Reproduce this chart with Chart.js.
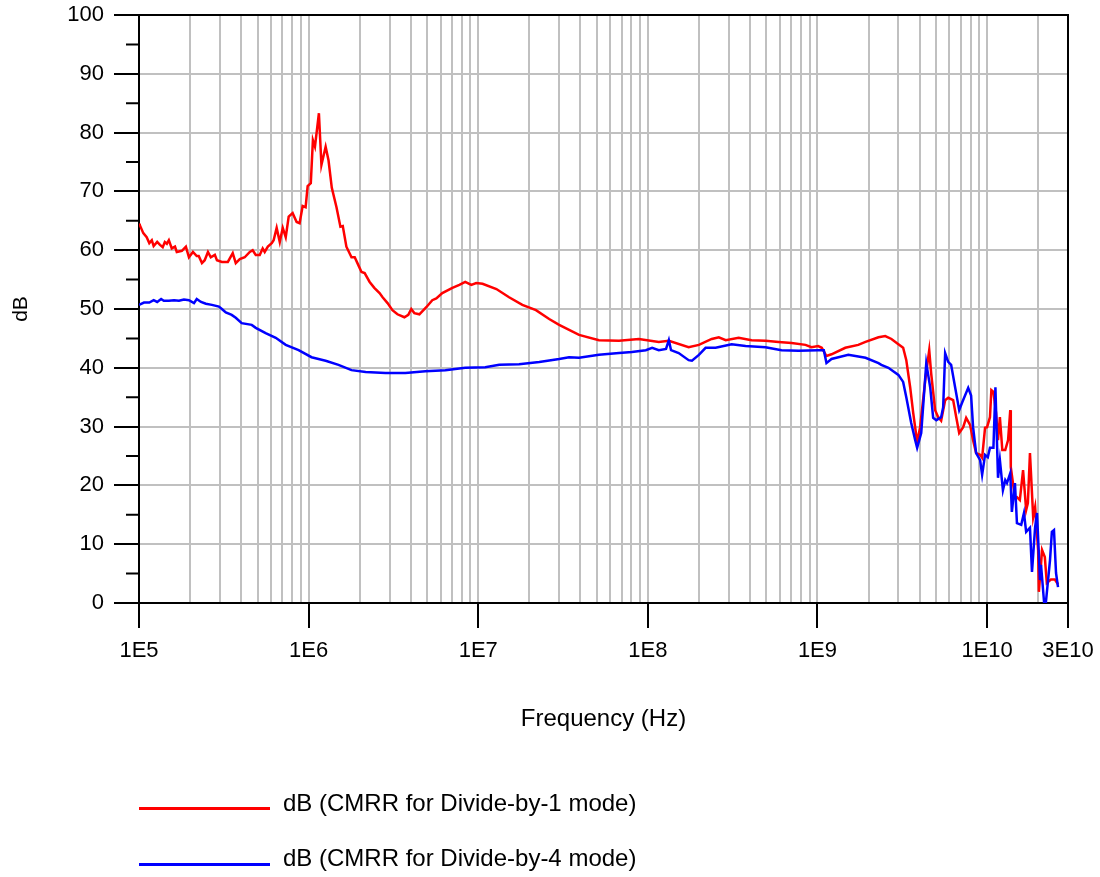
<!DOCTYPE html>
<html>
<head>
<meta charset="utf-8">
<script src="https://cdn.jsdelivr.net/npm/chart.js@4.4.1/dist/chart.umd.min.js"></script>
<style>
  body { margin: 0; background: #fff; }
  #wrap { position: relative; width: 1100px; height: 877px; }
  #chart { position: absolute; left: 0; top: 0; }
  .leg-line { position: absolute; left: 139px; width: 131px; height: 3px; }
  .leg-text { position: absolute; left: 283px; font: 24px "Liberation Sans", Arial, sans-serif; line-height: 28px; color: #000; white-space: nowrap; }
</style>
</head>
<body>
<div id="wrap">
  <canvas id="chart" width="1100" height="877"></canvas>
  <div id="legend"></div>
</div>
<script>
// CMRR for Divide-by-1 mode (red)
const redFreq = [
  1.00e5, 1.01e5, 1.06e5, 1.11e5, 1.15e5, 1.19e5, 1.22e5, 1.28e5, 1.33e5, 1.38e5,
  1.42e5, 1.46e5, 1.50e5, 1.56e5, 1.63e5, 1.67e5, 1.79e5, 1.89e5, 1.97e5, 2.08e5,
  2.19e5, 2.25e5, 2.35e5, 2.44e5, 2.55e5, 2.65e5, 2.80e5, 2.88e5, 3.08e5, 3.34e5,
  3.57e5, 3.72e5, 3.93e5, 4.20e5, 4.50e5, 4.68e5, 4.88e5, 5.15e5, 5.36e5, 5.51e5,
  5.75e5, 6.06e5, 6.22e5, 6.48e5, 6.76e5, 7.04e5, 7.33e5, 7.63e5, 8.05e5, 8.50e5,
  8.85e5, 9.22e5, 9.60e5, 9.87e5, 1.03e6, 1.06e6, 1.09e6, 1.15e6, 1.19e6, 1.26e6,
  1.31e6, 1.37e6, 1.46e6, 1.54e6, 1.59e6, 1.67e6, 1.79e6, 1.87e6, 1.94e6, 2.05e6,
  2.14e6, 2.29e6, 2.44e6, 2.62e6, 2.73e6, 2.92e6, 3.12e6, 3.34e6, 3.67e6, 3.87e6,
  4.03e6, 4.20e6, 4.50e6, 4.94e6, 5.36e6, 5.66e6, 6.14e6, 7.04e6, 7.74e6, 8.38e6,
  9.10e6, 9.73e6, 1.06e7, 1.28e7, 1.52e7, 1.82e7, 2.19e7, 2.62e7, 3.00e7, 3.93e7,
  5.15e7, 6.76e7, 8.85e7, 1.16e8, 1.33e8, 1.74e8, 2.00e8, 2.38e8, 2.62e8, 2.88e8,
  3.43e8, 4.09e8, 4.94e8, 5.90e8, 7.04e8, 8.50e8, 9.22e8, 1.01e9, 1.06e9, 1.13e9,
  1.21e9, 1.46e9, 1.74e9, 1.92e9, 2.29e9, 2.51e9, 2.73e9, 3.00e9, 3.20e9, 3.34e9,
  3.52e9, 3.67e9, 3.87e9, 4.03e9, 4.32e9, 4.56e9, 4.68e9, 4.94e9, 5.15e9, 5.36e9,
  5.66e9, 5.90e9, 6.31e9, 6.58e9, 6.85e9, 7.23e9, 7.53e9, 7.94e9, 8.27e9, 8.62e9,
  9.10e9, 9.35e9, 9.73e9, 1.00e10, 1.04e10, 1.06e10, 1.09e10, 1.13e10, 1.16e10, 1.19e10,
  1.23e10, 1.28e10, 1.33e10, 1.37e10, 1.38e10, 1.46e10, 1.50e10, 1.56e10, 1.63e10, 1.70e10,
  1.74e10, 1.79e10, 1.87e10, 1.92e10, 2.00e10, 2.02e10, 2.11e10, 2.19e10, 2.25e10, 2.38e10,
  2.51e10, 2.62e10
];
const redDb = [
  64.5, 64.3, 62.9, 62.2, 61.2, 61.7, 60.7, 61.4, 60.9, 60.5,
  61.4, 61.1, 61.7, 60.3, 60.6, 59.7, 59.9, 60.6, 58.8, 59.7,
  59.0, 59.0, 57.8, 58.3, 59.7, 58.8, 59.2, 58.3, 58.0, 58.0,
  59.5, 57.8, 58.5, 58.8, 59.7, 60.0, 59.2, 59.2, 60.3, 59.7,
  60.6, 61.2, 61.7, 63.8, 61.4, 63.8, 62.2, 65.7, 66.3, 64.8,
  64.6, 67.5, 67.3, 70.9, 71.4, 78.7, 77.6, 83.3, 74.5, 77.6,
  75.3, 70.6, 67.3, 64.0, 64.1, 60.6, 58.8, 58.8, 57.8, 56.3,
  56.1, 54.6, 53.6, 52.7, 52.0, 51.0, 49.8, 49.1, 48.6, 49.0,
  50.0, 49.3, 49.1, 50.3, 51.5, 51.8, 52.7, 53.6, 54.1, 54.6,
  54.1, 54.4, 54.3, 53.4, 52.0, 50.7, 49.8, 48.3, 47.3, 45.6,
  44.7, 44.6, 44.9, 44.4, 44.6, 43.5, 43.9, 44.9, 45.2, 44.7,
  45.1, 44.7, 44.6, 44.4, 44.2, 43.9, 43.5, 43.7, 43.4, 42.0,
  42.3, 43.4, 43.9, 44.4, 45.2, 45.4, 44.9, 44.0, 43.4, 41.3,
  36.7, 32.3, 27.4, 29.9, 37.9, 43.0, 39.1, 32.8, 31.6, 31.0,
  34.5, 34.9, 34.5, 31.6, 28.9, 29.9, 31.5, 30.3, 27.7, 25.5,
  25.2, 24.7, 29.8, 29.9, 31.6, 36.2, 35.9, 32.3, 27.7, 31.6,
  26.0, 26.0, 27.7, 32.8, 23.1, 17.9, 18.0, 17.5, 22.6, 15.8,
  17.0, 25.5, 14.6, 16.3, 9.0, 1.9, 9.0, 7.8, 3.4, 4.0,
  4.0, 3.2
];

// CMRR for Divide-by-4 mode (blue)
const blueFreq = [
  1.00e5, 1.07e5, 1.15e5, 1.22e5, 1.28e5, 1.35e5, 1.40e5, 1.50e5, 1.61e5, 1.72e5,
  1.84e5, 1.97e5, 2.11e5, 2.19e5, 2.32e5, 2.48e5, 2.69e5, 2.96e5, 3.08e5, 3.25e5,
  3.52e5, 3.72e5, 4.03e5, 4.62e5, 4.88e5, 5.58e5, 6.40e5, 7.33e5, 8.73e5, 1.04e6,
  1.26e6, 1.50e6, 1.79e6, 2.17e6, 2.84e6, 3.72e6, 4.88e6, 6.40e6, 8.38e6, 1.10e7,
  1.33e7, 1.74e7, 2.29e7, 3.00e7, 3.43e7, 3.93e7, 5.15e7, 6.76e7, 8.05e7, 9.73e7,
  1.06e8, 1.16e8, 1.28e8, 1.33e8, 1.37e8, 1.52e8, 1.74e8, 1.82e8, 2.00e8, 2.19e8,
  2.51e8, 3.12e8, 3.77e8, 4.94e8, 6.14e8, 7.74e8, 1.01e9, 1.09e9, 1.13e9, 1.21e9,
  1.52e9, 1.92e9, 2.29e9, 2.38e9, 2.62e9, 3.00e9, 3.20e9, 3.34e9, 3.57e9, 3.77e9,
  3.87e9, 4.09e9, 4.38e9, 4.62e9, 4.81e9, 5.02e9, 5.36e9, 5.51e9, 5.66e9, 5.90e9,
  6.14e9, 6.48e9, 6.85e9, 7.13e9, 7.74e9, 8.05e9, 8.27e9, 8.62e9, 9.10e9, 9.35e9,
  9.73e9, 1.01e10, 1.04e10, 1.09e10, 1.12e10, 1.16e10, 1.19e10, 1.24e10, 1.28e10, 1.31e10,
  1.37e10, 1.40e10, 1.46e10, 1.50e10, 1.59e10, 1.65e10, 1.70e10, 1.79e10, 1.84e10, 1.92e10,
  1.97e10, 2.05e10, 2.08e10, 2.17e10, 2.22e10, 2.35e10, 2.41e10, 2.48e10, 2.55e10, 2.62e10
];
const blueDb = [
  50.7, 51.1, 51.1, 51.5, 51.2, 51.7, 51.4, 51.4, 51.5, 51.4,
  51.6, 51.5, 51.0, 51.7, 51.2, 50.9, 50.7, 50.4, 50.0, 49.4,
  49.0, 48.5, 47.6, 47.3, 46.8, 45.9, 45.1, 43.9, 43.0, 41.8,
  41.2, 40.5, 39.6, 39.3, 39.1, 39.1, 39.4, 39.6, 40.0, 40.1,
  40.5, 40.6, 41.0, 41.5, 41.8, 41.7, 42.2, 42.5, 42.7, 43.0,
  43.4, 43.0, 43.2, 44.7, 43.0, 42.5, 41.3, 41.2, 42.2, 43.4,
  43.4, 44.0, 43.7, 43.5, 43.0, 42.9, 43.0, 43.0, 40.8, 41.5,
  42.2, 41.7, 40.8, 40.5, 40.0, 38.8, 37.6, 35.0, 30.6, 27.7,
  26.4, 28.9, 40.8, 36.7, 31.5, 31.1, 31.6, 33.3, 42.5, 41.0,
  40.5, 36.7, 32.8, 34.1, 36.6, 35.3, 29.9, 25.5, 24.3, 21.8,
  25.2, 24.8, 26.4, 26.4, 36.7, 21.3, 24.3, 19.2, 20.9, 20.4,
  22.1, 15.5, 20.4, 13.6, 13.3, 15.3, 12.1, 12.8, 5.3, 12.9,
  15.3, 3.9, 6.5, 0.0, 0.0, 7.3, 12.1, 12.4, 5.1, 2.7
];

// axis labels
const xTickValues = [1e5, 1e6, 1e7, 1e8, 1e9, 1e10, 3e10];
const xTickLabels = ["1E5", "1E6", "1E7", "1E8", "1E9", "1E10", "3E10"];
const yTickValues = [0, 10, 20, 30, 40, 50, 60, 70, 80, 90, 100];

// gridlines at every 1..9 x 10^k inside the range
const xGrid = [];
for (let k = 5; k <= 10; k++) {
  for (let m = 1; m <= 9; m++) {
    const v = m * Math.pow(10, k);
    if (v <= 3e10) xGrid.push(v);
  }
}

const FONT = "'Liberation Sans', Arial, sans-serif";
Chart.defaults.font.family = FONT;
Chart.defaults.color = "#000";

const GRID = "#c0c0c0";
const NONE = "rgba(0,0,0,0)";

function toPoints(xs, ys) {
  return xs.map((x, i) => ({ x: x, y: ys[i] }));
}

// box top/right edges and the short minor ticks on the y axis
const framePlugin = {
  id: "frame",
  beforeDatasetsDraw(chart) {
    const ctx = chart.ctx;
    const a = chart.chartArea;
    const y = chart.scales.y;
    ctx.save();
    ctx.strokeStyle = "#000";
    ctx.lineWidth = 2;
    ctx.beginPath();
    ctx.moveTo(a.left, a.top);
    ctx.lineTo(a.right, a.top);
    ctx.lineTo(a.right, a.bottom);
    y.ticks.forEach((t) => {
      if (!yTickValues.includes(t.value)) {
        const py = y.getPixelForValue(t.value);
        ctx.moveTo(a.left - 13, py);
        ctx.lineTo(a.left, py);
      }
    });
    ctx.stroke();
    ctx.restore();
  },
};

const chart = new Chart(document.getElementById("chart"), {
  type: "line",
  data: {
    datasets: [
      {
        label: "dB (CMRR for Divide-by-1 mode)",
        data: toPoints(redFreq, redDb),
        borderColor: "#ff0000",
        borderWidth: 2.5,
        pointRadius: 0,
        order: 1,
      },
      {
        label: "dB (CMRR for Divide-by-4 mode)",
        data: toPoints(blueFreq, blueDb),
        borderColor: "#0000ff",
        borderWidth: 2.5,
        pointRadius: 0,
        order: 0,
      },
    ],
  },
  options: {
    responsive: false,
    animation: false,
    layout: { padding: { top: 15, right: 32, bottom: 134, left: 0 } },
    plugins: {
      legend: { display: false },
      tooltip: { enabled: false },
    },
    scales: {
      x: {
        type: "logarithmic",
        min: 1e5,
        max: 3e10,
        afterBuildTicks: (s) => {
          s.ticks = xGrid.map((v) => ({ value: v }));
        },
        afterFit: (s) => {
          s.height = 140;
          s.paddingLeft = 0;
          s.paddingRight = 0;
        },
        ticks: {
          autoSkip: false,
          maxRotation: 0,
          padding: 10,
          font: { size: 22 },
          callback: (v) => {
            const i = xTickValues.indexOf(v);
            return i < 0 ? "" : xTickLabels[i];
          },
        },
        grid: {
          color: GRID,
          lineWidth: 2,
          tickLength: 25,
          tickWidth: 2,
          tickColor: (c) => (xTickValues.includes(c.tick.value) ? "#000" : NONE),
        },
        border: { color: "#000", width: 2 },
        title: {
          display: true,
          text: "Frequency (Hz)",
          font: { size: 24 },
          padding: { top: 0, bottom: 9 },
        },
      },
      y: {
        min: 0,
        max: 100,
        afterFit: (s) => {
          s.width = 139;
          s.paddingTop = 0;
          s.paddingBottom = 0;
        },
        ticks: {
          stepSize: 5,
          padding: 10,
          font: { size: 22 },
          callback: (v) => (yTickValues.includes(v) ? v : ""),
        },
        grid: {
          color: (c) => (yTickValues.includes(c.tick.value) ? GRID : NONE),
          lineWidth: 2,
          tickLength: 25,
          tickWidth: 2,
          tickColor: (c) => (yTickValues.includes(c.tick.value) ? "#000" : NONE),
        },
        border: { color: "#000", width: 2 },
        title: {
          display: true,
          text: "dB",
          font: { size: 21 },
          padding: { top: 9, bottom: 0 },
        },
      },
    },
  },
  plugins: [framePlugin],
});

// legend under the plot, one row per series
const legendTops = [789, 844];
const lineTops = [807, 863];
const legend = document.getElementById("legend");
chart.data.datasets.forEach((ds, i) => {
  const line = document.createElement("div");
  line.className = "leg-line";
  line.style.top = lineTops[i] + "px";
  line.style.background = ds.borderColor;
  legend.appendChild(line);

  const text = document.createElement("div");
  text.className = "leg-text";
  text.style.top = legendTops[i] + "px";
  text.textContent = ds.label;
  legend.appendChild(text);
});
</script>
</body>
</html>
